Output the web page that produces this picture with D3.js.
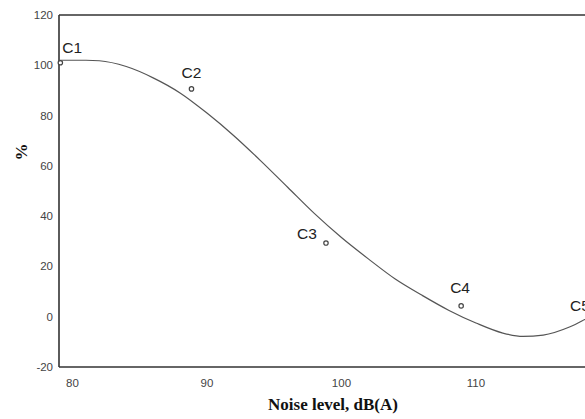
<!DOCTYPE html>
<html>
<head>
<meta charset="utf-8">
<script src="https://cdn.jsdelivr.net/npm/d3@7"></script>
<style>
  body { margin: 0; background: #fff; }
  svg { display: block; }
</style>
</head>
<body>
<svg width="585" height="419"></svg>
<script>
// fitted curve (dB(A), %)
var curveX = [79, 81, 82, 84, 86, 88, 90, 92, 94, 96, 98, 100, 102, 104, 106, 108, 110, 112, 113.5, 115, 117, 118.5, 119.5];
var curveY = [102, 102, 101.8, 99.5, 95, 89, 81, 72, 62, 51.5, 41, 31.5, 23, 15, 8.5, 2.5, -2.5, -6.5, -7.8, -7.3, -4, 0, 2.5];

// measured points
var pointNames = ["C1", "C2", "C3", "C4", "C5"];
var pointX = [79.1, 88.85, 98.85, 108.9, 119];
var pointY = [101, 90.6, 29.3, 4.3, -3];

var xTicks = [80, 90, 100, 110];
var yTicks = [-20, 0, 20, 40, 60, 80, 100, 120];

// label placement relative to each point (layout only)
var labelDx = [2, -10, -29, -11, -27];
var labelDy = [-10, -11, -4, -13, -13];

var svg = d3.select("svg");
var plotLeft = 59, plotTop = 15, plotBottom = 367;

var x = d3.scaleLinear().domain([79, 120]).range([plotLeft, plotLeft + 41 * 13.45]);
var y = d3.scaleLinear().domain([-20, 120]).range([plotBottom, plotTop]);

// frame
svg.append("line").attr("x1", plotLeft).attr("x2", 585).attr("y1", plotTop).attr("y2", plotTop)
    .attr("stroke", "#333").attr("stroke-width", 1.6);
svg.append("line").attr("x1", plotLeft).attr("x2", 585).attr("y1", plotBottom).attr("y2", plotBottom)
    .attr("stroke", "#333").attr("stroke-width", 1.6);
svg.append("line").attr("x1", plotLeft).attr("x2", plotLeft).attr("y1", plotTop).attr("y2", plotBottom)
    .attr("stroke", "#333").attr("stroke-width", 1.6);

// tick labels
svg.selectAll(".ytl").data(yTicks).enter().append("text")
    .attr("class", "ytl")
    .attr("x", plotLeft - 6)
    .attr("y", d => y(d) + 4)
    .attr("text-anchor", "end")
    .attr("font-family", "Liberation Sans, Arial, sans-serif")
    .attr("font-size", 11.5)
    .attr("fill", "#444")
    .text(d => d);

svg.selectAll(".xtl").data(xTicks).enter().append("text")
    .attr("class", "xtl")
    .attr("x", d => x(d))
    .attr("y", 387)
    .attr("text-anchor", "middle")
    .attr("font-family", "Liberation Sans, Arial, sans-serif")
    .attr("font-size", 11.5)
    .attr("fill", "#444")
    .text(d => d);

// axis titles
svg.append("text")
    .attr("x", 333).attr("y", 410)
    .attr("text-anchor", "middle")
    .attr("font-family", "Liberation Serif, Times New Roman, serif")
    .attr("font-weight", "bold")
    .attr("font-size", 17)
    .attr("fill", "#111")
    .text("Noise level, dB(A)");

svg.append("text")
    .attr("transform", "translate(27,152) rotate(-90)")
    .attr("text-anchor", "middle")
    .attr("font-family", "Liberation Serif, Times New Roman, serif")
    .attr("font-weight", "bold")
    .attr("font-size", 17)
    .attr("fill", "#111")
    .text("%");

// curve
var curveData = curveX.map((d, i) => [d, curveY[i]]);
var line = d3.line()
    .x(d => x(d[0]))
    .y(d => y(d[1]))
    .curve(d3.curveMonotoneX);

svg.append("defs").append("clipPath").attr("id", "plot")
    .append("rect").attr("x", plotLeft).attr("y", plotTop).attr("width", 585 - plotLeft).attr("height", plotBottom - plotTop);

svg.append("path")
    .datum(curveData)
    .attr("clip-path", "url(#plot)")
    .attr("d", line)
    .attr("fill", "none")
    .attr("stroke", "#555")
    .attr("stroke-width", 1.2);

// points and labels
var pts = pointNames.map((n, i) => ({name: n, x: pointX[i], y: pointY[i], i: i}));

svg.selectAll(".pt").data(pts).enter().append("circle")
    .attr("class", "pt")
    .attr("cx", d => x(d.x))
    .attr("cy", d => y(d.y))
    .attr("r", 2.2)
    .attr("fill", "#fff")
    .attr("stroke", "#444")
    .attr("stroke-width", 1.2);

svg.selectAll(".lbl").data(pts).enter().append("text")
    .attr("class", "lbl")
    .attr("x", d => x(d.x) + labelDx[d.i])
    .attr("y", d => y(d.y) + labelDy[d.i])
    .attr("font-family", "Liberation Sans, Arial, sans-serif")
    .attr("font-size", 15.5)
    .attr("fill", "#222")
    .text(d => d.name);
</script>
</body>
</html>
